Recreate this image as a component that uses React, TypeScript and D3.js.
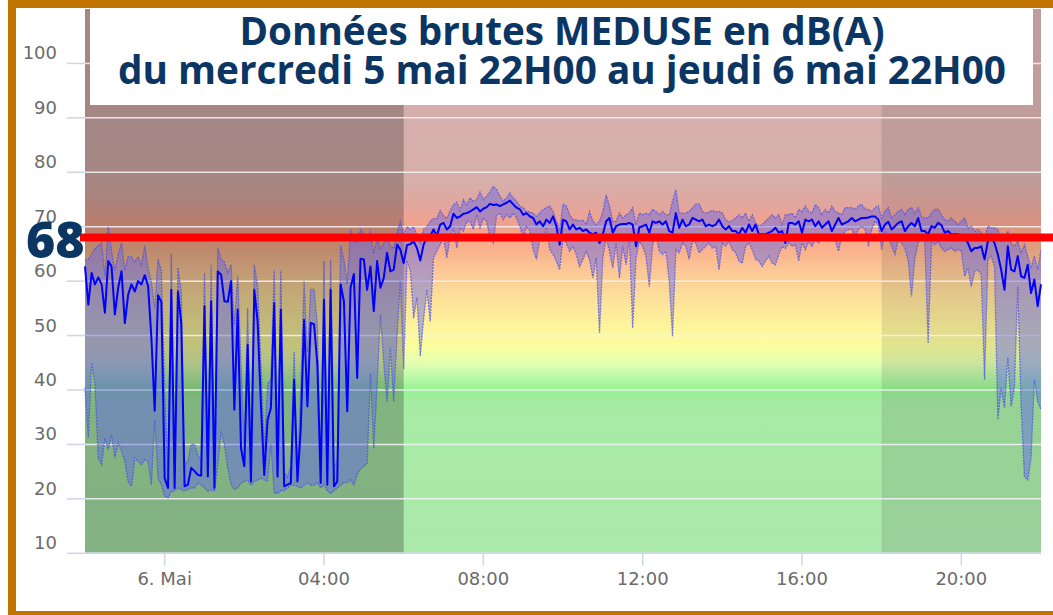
import React, { useEffect, useRef } from "react";
import * as d3 from "d3";

// 5-minute samples from Wed 5 May 22:00 to Thu 6 May 22:00
const START = new Date(2021, 4, 5, 22, 0);
const STEP_MIN = 5;

const AVG = [
  62.7, 55.7, 61.5, 59.4, 60.7, 59.4, 54.2, 63.7, 62.7, 53.9,
  58.8, 61.8, 52.3, 57.5, 59.4, 58.1, 60.0, 59.4, 61.1, 59.1,
  49.6, 36.2, 57.4, 56.2, 23.8, 22.0, 58.4, 22.0, 58.1, 52.3,
  22.3, 22.6, 25.7, 25.1, 24.4, 24.3, 55.4, 24.1, 56.3, 22.0,
  61.8, 61.2, 56.3, 56.2, 60.0, 36.4, 54.8, 29.3, 26.0, 48.3,
  23.2, 58.4, 52.6, 37.3, 24.4, 34.5, 36.7, 56.0,
  24.1, 54.8, 22.3, 22.6, 22.9, 41.9, 23.2, 33.0, 52.9, 37.0,
  52.3, 52.1, 44.7, 22.9, 56.6, 22.6, 58.4, 22.3, 23.2, 59.4,
  56.3, 36.1, 58.8, 61.3, 42.2, 64.1, 64.0, 58.4, 62.7, 54.5,
  63.7, 58.8, 60.6, 65.2, 61.8, 62.1, 66.7, 65.8, 63.3, 66.6,
  66.8, 67.3, 66.1, 63.8, 66.7, 68.0, 68.3, 69.5, 68.3, 70.4,
  70.7, 69.5, 70.1, 72.4, 71.6, 71.9, 72.4, 72.5,
  72.8, 73.2, 73.6, 72.8, 73.3, 73.6, 74.2, 74.0, 74.1, 73.8,
  74.1, 74.4, 74.8, 74.1, 73.5, 73.2, 72.2, 72.5, 71.9, 71.6,
  70.4, 71.0, 70.1, 71.3, 70.7, 71.9, 70.1, 66.7, 71.3, 71.0,
  69.5, 70.4, 69.5, 69.8, 69.2, 69.5, 68.9, 68.6, 68.9, 67.0,
  68.6, 71.0, 71.6, 68.9, 70.1, 70.4, 70.5, 70.5, 70.7, 70.4,
  66.4, 69.9, 70.1, 70.4, 68.9, 71.0, 70.7, 71.0,
  70.4, 71.0, 69.2, 68.9, 72.5, 69.8, 71.3, 70.1, 70.4, 71.6,
  71.3, 71.0, 71.3, 70.1, 70.4, 70.1, 70.4, 71.3, 70.1, 69.5,
  70.1, 69.2, 69.2, 68.6, 69.8, 68.9, 70.4, 69.2, 70.4, 68.6,
  68.6, 68.6, 68.9, 69.2, 69.8, 68.9, 69.2, 67.0, 70.7, 70.7,
  70.4, 71.0, 68.9, 71.3, 71.0, 71.3, 70.1, 71.0, 69.8, 70.4,
  71.0, 69.2, 70.4, 71.6, 70.4, 70.7, 71.0,
  71.6, 71.0, 71.3, 71.6, 71.6, 71.7, 71.9, 71.9, 71.3, 69.2,
  70.4, 70.9, 69.5, 70.1, 70.7, 71.0, 69.2, 70.1, 70.7, 70.1,
  71.6, 69.2, 69.2, 68.6, 70.1, 69.8, 70.7, 70.3, 68.9, 69.2,
  68.6, 68.6, 68.6, 68.3, 68.0, 67.0, 65.5, 66.1, 66.1, 66.4,
  64.0, 67.3, 68.0, 67.0, 64.9, 62.1, 58.4, 66.4, 62.1, 61.8,
  64.6, 60.9, 60.6, 63.0, 57.8, 60.3, 55.4, 59.4,
];

const HIGH = [
  64, 64, 65, 66, 66.5, 67, 61, 70, 65.5, 62,
  65, 67, 62, 64.5, 64.5, 63.5, 64.5, 63, 66.5, 62.5,
  60, 55, 64, 62, 40, 25, 65, 25, 62.5, 58,
  26, 27, 30, 30, 28, 27, 61.5, 27, 63, 26,
  66, 64, 63.5, 61.5, 63, 52, 61, 45, 30, 55,
  27, 63, 59, 45, 29, 41, 42, 62,
  27, 62, 25, 24, 26, 47, 25, 40, 60, 47,
  58.5, 58.5, 52, 25, 63.7, 26, 64, 26, 27, 66.5,
  64, 59.5, 69.2, 68, 67, 69.5, 68.5, 67.5, 69, 65,
  68, 66, 67, 68, 66.5, 66, 69, 71, 68.5, 70,
  69.5, 70, 68.5, 67, 69.5, 70, 71, 71.5, 71.5, 73,
  72, 71.5, 73, 74, 74.5, 73, 75, 74,
  75.3, 74.7, 75, 76.4, 75, 75.6, 76.4, 77.4, 76.8, 75.6,
  74.7, 75.3, 76.2, 75.3, 74.7, 73.8, 73.5, 72.8, 72.7, 72.5,
  71.9, 72.5, 73.2, 73.5, 73.8, 72.8, 71, 69.5, 74.1, 73.8,
  72.2, 71.3, 71.3, 71, 71.3, 70.4, 72.8, 71, 70.4, 71,
  72.8, 75.9, 73.8, 71, 71, 72.5, 71.6, 72.2, 72.5, 73.5,
  70.4, 72.5, 72.2, 72.5, 72.2, 73.2, 72.8, 72.2,
  72.8, 72.2, 72.1, 74.7, 76.8, 72.5, 72.5, 72.5, 72.8, 73.5,
  74.1, 74.2, 72.8, 72.5, 72.7, 73, 72.7, 72.8, 72.5, 71.3,
  70.9, 71.1, 71.6, 72.2, 71.6, 72.5, 71, 72.2, 70.7, 70.1,
  70.4, 71, 71.6, 72.2, 71.6, 72.2, 70.4, 72.2, 72.2, 72.5,
  71.6, 73.2, 72.8, 73.8, 72.8, 72.5, 74.1, 73.5, 72.2, 73.2,
  72.5, 73.8, 72.8, 72.5, 72.2, 73.5, 73.5,
  73.5, 73.2, 73.8, 74.1, 73.2, 73.2, 72.8, 73.5, 73.8, 71.6,
  72.8, 73.5, 71.6, 72.2, 72.8, 73.2, 72.2, 73.2, 73.5, 72.5,
  73.5, 71.9, 71.6, 71.6, 72.5, 73.2, 73.2, 72.2, 71.3, 71,
  71.6, 71, 70.4, 71, 71.6, 69.8, 70.1, 69.2, 69.5, 68.9,
  68, 70.1, 69.8, 69.8, 69.5, 67.3, 67.6, 69.2, 67, 66.4,
  67.3, 65.2, 66.7, 64.6, 62.4, 64.6, 62.1, 65.8,
];

const LOW = [
  40.4, 31.2, 45, 41, 27.5, 26.3, 31.2, 29, 31.8, 27.5,
  30.3, 28.7, 26.9, 23.2, 22.3, 27.5, 26.9, 26.3, 27.2, 26.9,
  22.6, 34.5, 23.8, 22.6, 20.5, 20.2, 21.4, 21.5, 22.0, 21.7,
  21.5, 21.7, 22, 22, 22.9, 22.6, 22, 21.4, 21.7, 21.4,
  26.3, 32.4, 30, 25.7, 22.6, 21.7, 22, 22.9, 23.2, 23.5,
  22.5, 23.2, 23.5, 23.8, 23.5, 23.3, 30, 21.1,
  21, 21.5, 21.5, 22, 22.5, 22.5, 22.3, 22, 22.5, 23,
  22.5, 22.5, 23, 22, 22.6, 21.5, 21, 21.5, 22, 22.5,
  23, 23, 23.5, 22.5, 24.5, 25.5, 26, 26.5, 43, 29.3,
  41, 53.8, 45, 37.9, 47.7, 37.9, 50, 60, 43.8, 63.7,
  62, 53.2, 57, 46.2, 53, 58.4, 52.6, 64.3, 65.5, 66.7,
  68, 64.3, 68, 69.8, 66.1, 69.8, 69.2, 71,
  71, 69.5, 72.2, 69.8, 71.6, 71, 68, 67, 72.2, 72.5,
  71.3, 72.2, 71.6, 72.5, 71.6, 70.1, 68, 70.1, 69.2, 65.8,
  64, 67.6, 67.3, 69.8, 65.8, 64.9, 63.7, 62.1, 68, 67,
  65.5, 66.4, 64.9, 62.7, 64, 65.5, 64, 60.6, 64.3, 50.5,
  64.3, 68, 65.5, 62.4, 67, 60.6, 66.4, 63, 68, 51.4,
  64.3, 67.3, 66.4, 64.6, 59, 66.7, 68.6, 65.5,
  64.9, 65.5, 60, 49.9, 65.8, 65.2, 67, 66.4, 64, 67.3,
  67, 65.2, 65.8, 66.4, 67, 66.1, 66.4, 62.1, 67, 66.4,
  67.3, 65.8, 65.2, 63.7, 63.3, 66.4, 67, 65.8, 64, 63.7,
  62.7, 63.7, 64.6, 63.3, 63, 64.9, 66.4, 66, 67, 66.4,
  66.7, 63.7, 67, 65.8, 67.3, 66.4, 67.6, 67, 68, 67.6,
  67.3, 68, 67.6, 65.5, 68.3, 69.2, 69.5,
  69.5, 68.3, 69.5, 70.1, 69.5, 66.4, 69.5, 71, 70.4, 65.8,
  69.2, 68.3, 66.4, 64.9, 67.6, 67, 66.1, 63.7, 57.2, 64.3,
  67, 68.3, 67, 48.6, 67, 66.7, 67.3, 66.1, 65.5, 65.8,
  66.1, 65.5, 65.8, 65.5, 60.9, 62.4, 59, 61.8, 62.1, 61.2,
  41.9, 64, 64.6, 62.7, 34.6, 40.4, 36.7, 45.9, 37, 40.4,
  59, 37.3, 24.1, 23.5, 27.5, 41.9, 37.9, 36.4,
];

const Y_TICKS = [10, 20, 30, 40, 50, 60, 70, 80, 90, 100];
const THRESHOLD = 68;
const TITLE_1 = "Données brutes MEDUSE en dB(A)";
const TITLE_2 = "du mercredi 5 mai 22H00 au jeudi 6 mai 22H00";

// night periods shaded on the plot
const NIGHT_FROM = [new Date(2021, 4, 5, 22, 0), new Date(2021, 4, 6, 18, 0)];
const NIGHT_TO = [new Date(2021, 4, 6, 6, 0), new Date(2021, 4, 6, 22, 0)];

// background colour by sound level (dB)
const BG_LEVELS = [10, 38, 40, 42, 45, 48, 52, 57, 62, 66, 70, 74, 78, 110];
const BG_COLORS = [
  "#abe8ab", "#a6eba4", "#95f391", "#b4f8a6", "#e4ffb0", "#fbff9e", "#fef39c",
  "#fde09a", "#fcc796", "#f9b08c", "#f4a18b", "#e2a69d", "#d6aeaa", "#d4b0ae",
];

const NAVY = "#0b3563";

export default function App() {
  const svgRef = useRef<SVGSVGElement>(null);

  useEffect(() => {
    if (!svgRef.current) return;
    const svg = d3.select(svgRef.current);
    svg.selectAll("*").remove();

    const W = 1053, H = 615;
    const P = { left: 85, right: 1041, top: 9, bottom: 553.3 };

    const times = AVG.map((_, i) => d3.timeMinute.offset(START, i * STEP_MIN));
    const x = d3.scaleTime().domain([START, times[times.length - 1]]).range([P.left, P.right]);
    const y = d3.scaleLinear().domain([10, 110]).range([P.bottom, P.top]);

    // --- background gradient ---
    const defs = svg.append("defs");
    const grad = defs.append("linearGradient").attr("id", "lvl")
      .attr("gradientUnits", "userSpaceOnUse")
      .attr("x1", 0).attr("x2", 0).attr("y1", y(10)).attr("y2", y(110));
    BG_LEVELS.forEach((v, i) => {
      grad.append("stop")
        .attr("offset", (y(10) - y(v)) / (y(10) - y(110)))
        .attr("stop-color", BG_COLORS[i]);
    });

    svg.append("rect").attr("x", 0).attr("y", 0).attr("width", W).attr("height", H).attr("fill", "#fff");
    svg.append("rect")
      .attr("x", P.left).attr("y", P.top)
      .attr("width", P.right - P.left).attr("height", P.bottom - P.top)
      .attr("fill", "url(#lvl)");

    // --- night bands ---
    const shade = [0.25, 0.11];
    NIGHT_FROM.forEach((d, i) => {
      svg.append("rect")
        .attr("x", x(d)).attr("y", P.top)
        .attr("width", x(NIGHT_TO[i]) - x(d)).attr("height", P.bottom - P.top)
        .attr("fill", `rgba(20,15,15,${shade[i]})`);
    });

    // --- grid + y axis ---
    const grid = svg.append("g");
    Y_TICKS.forEach(v => {
      grid.append("line")
        .attr("x1", P.left).attr("x2", P.right).attr("y1", y(v)).attr("y2", y(v))
        .attr("stroke", "#f2f2f2").attr("stroke-opacity", 0.9).attr("stroke-width", 1.5);
      svg.append("line")
        .attr("x1", 67).attr("x2", P.left).attr("y1", y(v)).attr("y2", y(v))
        .attr("stroke", "#ccd6eb").attr("stroke-width", 1.5);
      svg.append("text")
        .attr("x", 57).attr("y", y(v) - 4)
        .attr("text-anchor", "end")
        .attr("font-family", "DejaVu Sans, sans-serif").attr("font-size", 18)
        .attr("fill", "#6b6b6b")
        .text(v);
    });

    // --- x axis ---
    svg.append("line")
      .attr("x1", P.left).attr("x2", P.right).attr("y1", P.bottom).attr("y2", P.bottom)
      .attr("stroke", "#ccd6eb").attr("stroke-width", 1.5);
    const xt = x.ticks(d3.timeHour.every(4));
    xt.forEach(t => {
      svg.append("line")
        .attr("x1", x(t)).attr("x2", x(t)).attr("y1", P.bottom).attr("y2", P.bottom + 12)
        .attr("stroke", "#ccd6eb").attr("stroke-width", 1.5);
      svg.append("text")
        .attr("x", x(t)).attr("y", 585)
        .attr("text-anchor", "middle")
        .attr("font-family", "DejaVu Sans, sans-serif").attr("font-size", 18)
        .attr("fill", "#6b6b6b")
        .text(t.getHours() === 0 ? `${t.getDate()}. Mai` : d3.timeFormat("%H:%M")(t));
    });

    // --- min/max range ---
    const idx = d3.range(AVG.length);
    const area = d3.area<number>()
      .x(i => x(times[i]))
      .y0(i => y(LOW[i]))
      .y1(i => y(HIGH[i]));
    svg.append("path").datum(idx).attr("d", area)
      .attr("fill", "rgb(95,100,235)").attr("fill-opacity", 0.45);

    const edge = (arr: number[]) => d3.line<number>().x(i => x(times[i])).y(i => y(arr[i]));
    [LOW, HIGH].forEach(arr => {
      svg.append("path").datum(idx).attr("d", edge(arr))
        .attr("fill", "none").attr("stroke", "#4b4fe0").attr("stroke-opacity", 0.7)
        .attr("stroke-width", 1.3).attr("stroke-dasharray", "2 1");
    });

    // --- mean line ---
    svg.append("path").datum(idx).attr("d", edge(AVG))
      .attr("fill", "none").attr("stroke", "#0000ff").attr("stroke-width", 2)
      .attr("stroke-linejoin", "round");

    // --- 68 dB threshold ---
    svg.append("line")
      .attr("x1", 80).attr("x2", W + 10).attr("y1", y(THRESHOLD)).attr("y2", y(THRESHOLD))
      .attr("stroke", "#ff0000").attr("stroke-width", 8);
    svg.append("text")
      .attr("x", 26).attr("y", y(THRESHOLD) + 20.5)
      .attr("font-family", "Open Sans, sans-serif").attr("font-weight", 800)
      .attr("font-size", 50).attr("fill", NAVY)
      .text(THRESHOLD);

    // --- title box ---
    svg.append("rect").attr("x", 90).attr("y", 0).attr("width", 943).attr("height", 105).attr("fill", "#fff");
    [[TITLE_1, 45, 645], [TITLE_2, 84, 888]].forEach(([t, ty, len]) => {
      svg.append("text")
        .attr("x", 562).attr("y", ty as number)
        .attr("text-anchor", "middle")
        .attr("font-family", "Open Sans, sans-serif").attr("font-weight", 700)
        .attr("font-size", 39).attr("fill", NAVY)
        .attr("textLength", len as number).attr("lengthAdjust", "spacingAndGlyphs")
        .text(t as string);
    });

    // --- frame ---
    svg.append("rect")
      .attr("x", 12).attr("y", 4).attr("width", 1100).attr("height", 611)
      .attr("fill", "none").attr("stroke", "#c27400").attr("stroke-width", 8);
  }, []);

  return (
    <svg
      ref={svgRef}
      width={1053}
      height={615}
      style={{ position: "absolute", left: 0, top: 0, display: "block" }}
    />
  );
}
